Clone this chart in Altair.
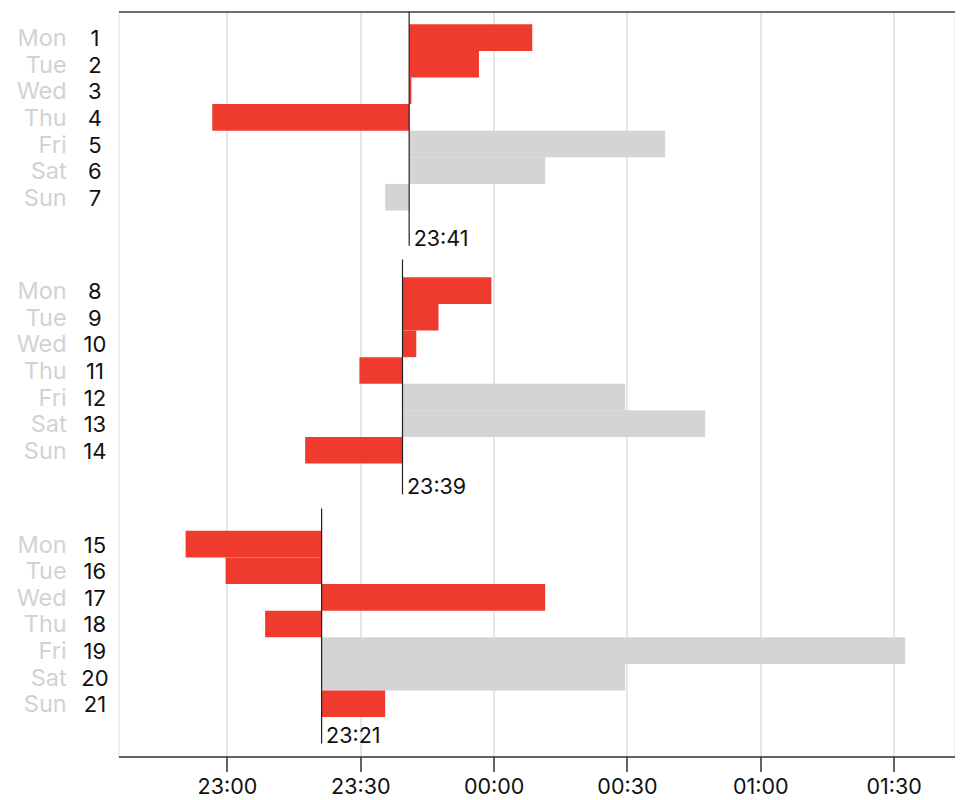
import altair as alt
import pandas as pd

# ---- data (bedtimes as minutes relative to midnight) ----
day_names = ["Mon", "Tue", "Wed", "Thu", "Fri", "Sat", "Sun"]
week1 = [8.7, -3.3, -18.5, -63.3, 38.6, 11.6, -24.4]
week2 = [-0.5, -12.4, -17.4, -30.2, 29.6, 47.6, -42.4]
week3 = [-69.3, -60.3, 11.6, -51.4, 92.6, 29.6, -24.4]
week_means = [-19.0, -20.5, -38.7]
mean_labels = ["23:41", "23:39", "23:21"]
kind1 = ["work", "work", "work", "work", "free", "free", "free"]
kind2 = ["work", "work", "work", "work", "free", "free", "work"]
kind3 = ["work", "work", "work", "work", "free", "free", "work"]

# row layout (in row units)
week_row_start = [0.48, 9.99, 19.52]
line_top = [0.0, 9.32, 18.68]
line_bottom = [8.80, 18.15, 27.51]

tick_values = [-60, -30, 0, 30, 60, 90]

rows = []
for w, (vals, kinds) in enumerate(zip([week1, week2, week3], [kind1, kind2, kind3])):
    for d, (v, k) in enumerate(zip(vals, kinds)):
        top = week_row_start[w] + d
        rows.append({
            "day": day_names[d],
            "num": str(w * 7 + d + 1),
            "bed": v,
            "mean": week_means[w],
            "kind": k,
            "top": top,
            "bottom": top + 1,
            "mid": top + 0.5,
        })
df = pd.DataFrame(rows)

means_df = pd.DataFrame({
    "mean": week_means,
    "label": mean_labels,
    "y1": line_top,
    "y2": line_bottom,
})

FONT = "Inter"
FS = 21.5
xscale = alt.Scale(domain=[-84.4, 103.7], nice=False, zero=False)
yscale = alt.Scale(domain=[0, 28.0], reverse=True, nice=False, zero=False)

xaxis = alt.Axis(
    values=tick_values,
    labelExpr="format(floor(((datum.value+1440)%1440)/60),'02d') + ':' + format((datum.value+1440)%60,'02d')",
    title=None,
    grid=True,
    gridColor="#dedede",
    gridWidth=1.5,
    domainColor="#333333",
    domainWidth=1.5,
    tickColor="#333333",
    tickWidth=1.5,
    tickSize=15,
    labelFontSize=FS,
    labelColor="#111111",
    labelPadding=5,
    labelFont=FONT,
)

top_axis = alt.Axis(
    orient="top", title=None, grid=False, labels=False, ticks=False,
    domain=True, domainColor="#444444", domainWidth=1.5,
)

left_axis = alt.Axis(
    orient="left", title=None, grid=False, labels=False, ticks=False,
    domain=True, domainColor="#444444", domainWidth=1.5,
)

base = alt.Chart(df)

bars = base.mark_rect().encode(
    x=alt.X("mean:Q", scale=xscale, axis=xaxis),
    x2="bed:Q",
    y=alt.Y("top:Q", scale=yscale, axis=left_axis),
    y2="bottom:Q",
    color=alt.Color(
        "kind:N",
        scale=alt.Scale(domain=["work", "free"], range=["#ee3b2e", "#d4d4d6"]),
        legend=None,
    ),
)

rules = alt.Chart(means_df).mark_rule(color="#222222", strokeWidth=1.2).encode(
    x=alt.X("mean:Q", scale=xscale, axis=top_axis),
    y=alt.Y("y1:Q", scale=yscale, axis=None),
    y2="y2:Q",
)

mean_text = alt.Chart(means_df).mark_text(
    align="left", baseline="alphabetic", dx=4.5, fontSize=FS, font=FONT, color="#111111"
).encode(
    x=alt.X("mean:Q", scale=xscale, axis=None),
    y=alt.Y("y2:Q", scale=yscale, axis=None),
    text="label:N",
)

day_text = base.mark_text(
    align="right", baseline="middle", fontSize=23.5, font=FONT, color="#d2d2d4", dy=1.5
).encode(
    x=alt.value(-51.8),
    y=alt.Y("mid:Q", scale=yscale, axis=None),
    text="day:N",
)

num_text = base.mark_text(
    align="center", baseline="middle", fontSize=22, font=FONT, color="#111111", dy=1.5
).encode(
    x=alt.value(-23.6),
    y=alt.Y("mid:Q", scale=yscale, axis=None),
    text="num:N",
)

chart = alt.layer(bars, rules, mean_text, day_text, num_text).resolve_axis(
    x="independent"
).properties(
    width=836,
    height=745,
    autosize=alt.AutoSizeParams(type="none"),
    padding={"left": 110.5, "top": 3.5, "right": 0, "bottom": 50},
).configure_view(
    stroke=None
).configure(font=FONT)

chart.save("out.html", embed_options={"renderer": "svg", "actions": False})
